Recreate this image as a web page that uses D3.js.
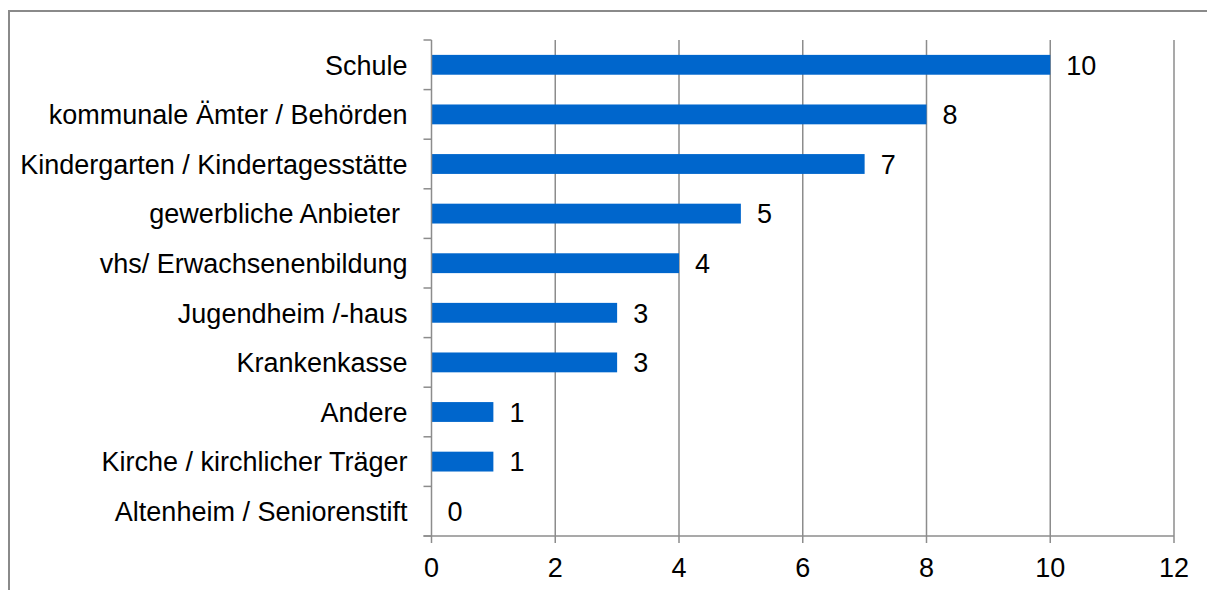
<!DOCTYPE html>
<html><head><meta charset="utf-8">
<script src="https://cdn.jsdelivr.net/npm/d3@7"></script>
<style>
html,body{margin:0;padding:0;background:#fff;}
svg{display:block;}
text{font-family:Arial,"Liberation Sans",sans-serif;white-space:pre;}
</style></head>
<body>
<svg id="chart" width="1207" height="590"></svg>
<script>
const categories = ["Schule","kommunale Ämter / Behörden","Kindergarten / Kindertagesstätte","gewerbliche Anbieter ","vhs/ Erwachsenenbildung","Jugendheim /-haus","Krankenkasse","Andere","Kirche / kirchlicher Träger","Altenheim / Seniorenstift"];
const values = [10,8,7,5,4,3,3,1,1,0];
const xTicks = [0,2,4,6,8,10,12];

(function(){
const svg = d3.select("#chart");
const pLeft = 431.5, pRight = 1174, pTop = 40, pBottom = 536;
const axisColor = "#8c8c8c";
const fs = 27;

// frame
svg.append("rect").attr("x",9).attr("y",11).attr("width",1250).attr("height",650)
  .attr("fill","none").attr("stroke","#8a8a8a").attr("stroke-width",2);

const x = d3.scaleLinear().domain([0,12]).range([pLeft,pRight]);
const y = d3.scaleBand().domain(categories).range([pTop,pBottom]).paddingInner(0.6).paddingOuter(0.3);
const band = d3.scaleBand().domain(categories).range([pTop,pBottom]);

// gridlines
svg.append("g").selectAll("line").data(xTicks.filter(d=>d>0)).join("line")
  .attr("x1",d=>x(d)).attr("x2",d=>x(d)).attr("y1",pTop).attr("y2",pBottom)
  .attr("stroke",axisColor).attr("stroke-width",1.5);

// bars
svg.append("g").selectAll("rect").data(values).join("rect")
  .attr("x",x(0)).attr("y",(d,i)=>y(categories[i]))
  .attr("width",d=>x(d)-x(0)).attr("height",y.bandwidth())
  .attr("fill","#0066cc");

// value labels
svg.append("g").selectAll("text").data(values).join("text")
  .attr("x",d=>x(d)+16).attr("y",(d,i)=>band(categories[i])+band.bandwidth()/2)
  .attr("dy","0.36em").attr("font-size",fs).attr("fill","#000").text(d=>d);

// y axis
const yAxisG = svg.append("g");
yAxisG.append("line").attr("x1",pLeft).attr("x2",pLeft).attr("y1",pTop).attr("y2",pBottom)
  .attr("stroke",axisColor).attr("stroke-width",1.5);
const bounds = categories.map(c=>band(c)).concat([pBottom]);
yAxisG.selectAll("line.tk").data(bounds).join("line").attr("class","tk")
  .attr("x1",pLeft-8).attr("x2",pLeft).attr("y1",d=>d).attr("y2",d=>d)
  .attr("stroke",axisColor).attr("stroke-width",1.5);
yAxisG.selectAll("text").data(categories).join("text")
  .attr("x",pLeft-24).attr("y",c=>band(c)+band.bandwidth()/2).attr("dy","0.36em")
  .attr("text-anchor","end").attr("font-size",fs).attr("fill","#000").text(c=>c);

// x axis
const xAxisG = svg.append("g");
xAxisG.append("line").attr("x1",pLeft-8).attr("x2",pRight).attr("y1",pBottom).attr("y2",pBottom)
  .attr("stroke",axisColor).attr("stroke-width",1.5);
xAxisG.selectAll("line.tk").data(xTicks).join("line").attr("class","tk")
  .attr("x1",d=>x(d)).attr("x2",d=>x(d)).attr("y1",pBottom).attr("y2",pBottom+7)
  .attr("stroke",axisColor).attr("stroke-width",1.5);
xAxisG.selectAll("text").data(xTicks).join("text")
  .attr("x",d=>x(d)).attr("y",577).attr("text-anchor","middle")
  .attr("font-size",fs).attr("fill","#000").text(d=>d);
})();
</script>
</body></html>
